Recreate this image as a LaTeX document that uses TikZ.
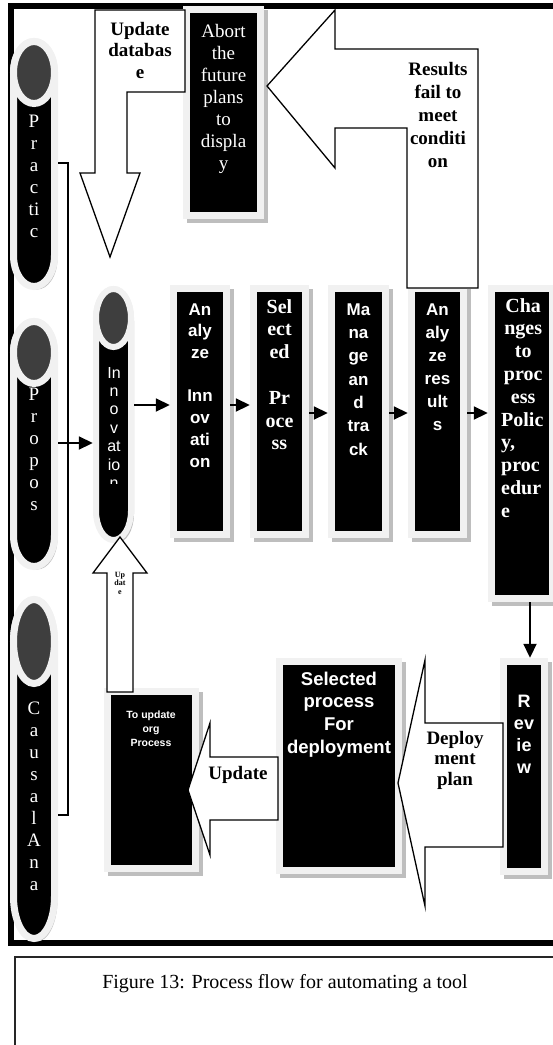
\documentclass[tikz,border=0pt]{standalone}
\usepackage{fontspec}
\setmainfont{Liberation Serif}
\newfontfamily\arial{Liberation Sans}
\usetikzlibrary{arrows.meta,shadows}
\definecolor{band}{RGB}{241,241,241}
\definecolor{shad}{RGB}{190,190,190}
\definecolor{face}{RGB}{62,62,62}
\newcommand\fs[2]{\fontsize{#1}{#2}\selectfont}
\newcommand\cl[1]{\makebox[44pt]{#1}}
% cylinder: cx, ytop, ybot, rx, ry, line width
\newcommand\can[6]{%
  \fill[shad,shift={(3,3)}] (#1-#4,#2+#5) -- (#1-#4,#3-#5) arc[start angle=180,end angle=0,x radius=#4,y radius=#5] -- (#1+#4,#2+#5) arc[start angle=0,end angle=-180,x radius=#4,y radius=#5] -- cycle;
  \filldraw[fill=black,draw=band,line width=#6] (#1-#4,#2+#5) -- (#1-#4,#3-#5) arc[start angle=180,end angle=0,x radius=#4,y radius=#5] -- (#1+#4,#2+#5) arc[start angle=0,end angle=-180,x radius=#4,y radius=#5] -- cycle;
  \filldraw[fill=face,draw=band,line width=#6] (#1,#2+#5) ellipse[x radius=#4,y radius=#5];
}
\begin{document}
\begin{tikzpicture}[x=1pt,y=-1pt,
  sbox/.style={inner sep=0,fill=band,
    drop shadow={shadow xshift=4pt,shadow yshift=-4pt,fill=shad,opacity=1},
    path picture={\fill[black] ([shift={(7pt,7pt)}]path picture bounding box.south west) rectangle ([shift={(-7pt,-7pt)}]path picture bounding box.north east);}},
  hold/.style={inner sep=0},
  wtxt/.style={text=white,inner sep=0,anchor=north,align=center},
  btxt/.style={text=black,inner sep=0,anchor=north,align=center},
  arr/.style={line width=1.8pt,-{Triangle[length=14pt,width=13pt]}},
  conn/.style={line width=1.5pt},
  barrow/.style={draw=black,fill=white,line width=1.3pt,line join=miter}
]
\useasboundingbox (0,0) rectangle (553,1045);
\clip (0,0) rectangle (553,1045);
\fill[white] (0,0) rectangle (553,1045);

% outer frame and caption box
\draw[line width=5.5pt] (11,6) rectangle (600,943);
\draw[line width=2pt,draw=black!85] (14.5,957) rectangle (600,1100);
\node[inner sep=0,anchor=base,font=\fs{20}{24}] (cap) at (285,988) {Figure 13: Process flow for automating a tool};

% cylinders
\can{34}{41.5}{286.5}{20.5}{31}{7pt}
\can{34}{321.5}{566.5}{20.5}{31}{7pt}
\can{34}{599.5}{938.5}{20.5}{42}{7pt}
\can{113.5}{289}{540}{17.5}{29}{6pt}
\node[hold,minimum width=48pt,minimum height=252pt] (pill1) at (34,164) {};
\node[hold,minimum width=48pt,minimum height=252pt] (pill2) at (34,444) {};
\node[hold,minimum width=48pt,minimum height=346pt] (pill3) at (34,769) {};
\node[hold,minimum width=41pt,minimum height=257pt] (inno) at (113.5,414.5) {};

\node[wtxt,font=\fs{19}{22}] (t1) at (34,111.6) {\strut P\\r\\a\\c\\ti\\c};
\node[wtxt,font=\fs{19}{22}] (t2) at (34,384.6) {\strut P\\r\\o\\p\\o\\s};
\node[wtxt,font=\fs{19}{22}] (t3) at (34,698.6) {\strut C\\a\\u\\s\\a\\l\\A\\n\\a};
\begin{scope}
\clip (85,350) rectangle (145,483);
\node[wtxt,font=\arial\fs{16}{18.4}] (tin) at (114,365.1) {\strut In\\n\\o\\v\\at\\io\\n};
\end{scope}

% boxes
\node[sbox,minimum width=81pt,minimum height=213pt] (abort) at (223.5,112.5) {};
\node[sbox,minimum width=60pt,minimum height=253pt] (ai) at (200,411.5) {};
\node[sbox,minimum width=59pt,minimum height=253pt] (sp) at (279.5,411.5) {};
\node[sbox,minimum width=61pt,minimum height=253pt] (mt) at (358.5,411.5) {};
\node[sbox,minimum width=59pt,minimum height=253pt] (ar) at (437.5,411.5) {};
\node[sbox,minimum width=68pt,minimum height=317pt] (ch) at (522,443.5) {};
\node[sbox,minimum width=48pt,minimum height=217pt] (rv) at (524,766.5) {};
\node[sbox,minimum width=126pt,minimum height=216pt] (sd) at (339,766) {};
\node[sbox,minimum width=95pt,minimum height=184pt] (tu) at (151.5,780) {};

\node[wtxt,font=\fs{19}{22}] (tab) at (223.5,21.6) {\strut Abort\\the\\future\\plans\\to\\displa\\y};
\node[wtxt,font=\arial\bfseries\fs{17}{21.7}] (tai) at (200,299.8) {\strut An\\aly\\ze\\ \mbox{}\\Inn\\ov\\ati\\on};
\node[wtxt,font=\bfseries\fs{20}{22.8}] (tsp) at (279.5,297) {\strut Sel\\ect\\ed\\ \mbox{}\\Pr\\oce\\ss};
\node[wtxt,font=\arial\bfseries\fs{17}{23.3}] (tmt) at (358.5,298.7) {\strut Ma\\na\\ge\\an\\d\\tra\\ck};
\node[wtxt,font=\arial\bfseries\fs{17}{23}] (tar) at (437.5,298.9) {\strut An\\aly\\ze\\res\\ult\\s};
\node[wtxt,anchor=north west,align=left,font=\bfseries\fs{20}{22.8}] (tch) at (501,296) {\strut\cl{Cha}\\\cl{nges}\\\cl{to}\\\cl{proc}\\\cl{ess}\\Polic\\y,\\proc\\edur\\e};
\node[wtxt,font=\arial\bfseries\fs{18}{22}] (trv) at (524,691.6) {\strut R\\ev\\ie\\w};
\node[wtxt,font=\arial\bfseries\fs{18.5}{22.7}] (tsd) at (339,669.1) {\strut Selected\\process\\For\\deployment};
\node[wtxt,font=\arial\bfseries\fs{10.5}{14}] (ttu) at (151,708.2) {\strut To update\\org\\Process};

% block arrows
\draw[barrow] (95,10) -- (185,10) -- (185,92) -- (127,92) -- (127,173) -- (140,173) -- (110,257) -- (80,173) -- (95,173) -- cycle;
\node[btxt,font=\bfseries\fs{19}{21.5}] (tud) at (140,20) {\strut Update\\databas\\e};

\draw[barrow] (267,86) -- (335,10) -- (335,49) -- (478,49) -- (478,288) -- (407,288) -- (407,128) -- (335,128) -- (335,168) -- cycle;
\node[btxt,font=\bfseries\fs{19}{23}] (tre) at (438,58.9) {\strut Results\\fail to\\meet\\conditi\\on};

\draw[barrow] (120,537) -- (147,573) -- (133,573) -- (133,692) -- (107,692) -- (107,573) -- (93,573) -- cycle;
\node[btxt,font=\bfseries\fs{8}{8.5}] (tup) at (120,571) {\strut Up\\dat\\e};

\draw[barrow] (188,790) -- (210,723) -- (210,757) -- (278,757) -- (278,820) -- (210,820) -- (210,855) -- cycle;
\node[inner sep=0,anchor=base,font=\bfseries\fs{19}{22}] (tupd) at (238,779) {Update};

\draw[barrow] (398,783) -- (425,660) -- (425,723) -- (503,723) -- (503,847) -- (425,847) -- (425,906) -- cycle;
\node[btxt,font=\bfseries\fs{19}{20.5}] (tdp) at (455,729.6) {\strut Deploy\\ment\\plan};

% connectors
\coordinate (b1) at (68,163);
\coordinate (b2) at (68,815);
\coordinate (hy1) at (0,405);
\coordinate (hy2) at (0,413);
\coordinate (hy3) at (0,443);
\coordinate (cv) at (530,0);
\draw[conn] (pill1.east |- b1) -- (b1) -- (b2) -- (pill3.east |- b2);
\draw[arr] (pill2.east |- hy3) -- (inno.west |- hy3);
\draw[arr] (inno.east |- hy1) -- (ai.west |- hy1);
\draw[arr] (ai.east |- hy1) -- (sp.west |- hy1);
\draw[arr] (sp.east |- hy2) -- (mt.west |- hy2);
\draw[arr] (mt.east |- hy2) -- (ar.west |- hy2);
\draw[arr] (ar.east |- hy2) -- (ch.west |- hy2);
\draw[arr] (ch.south -| cv) -- (rv.north -| cv);
\end{tikzpicture}
\end{document}
